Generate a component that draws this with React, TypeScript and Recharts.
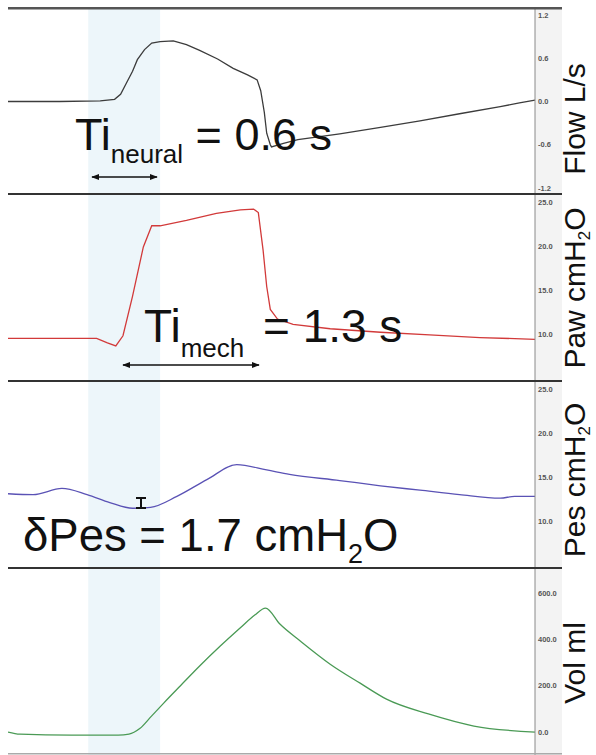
import { LineChart, Line, XAxis, YAxis, ReferenceArea } from 'recharts'

// time axis (s) and shaded neural inspiration window
const T_DOMAIN: [number, number] = [0, 4.4]
const BAND_START = 0.67
const BAND_END = 1.27

// Flow L/s
const FLOW_T = [0, 0.43, 0.77, 0.89, 0.94, 0.99, 1.04, 1.08, 1.14, 1.2, 1.27, 1.38, 1.49, 1.6, 1.75, 1.88, 2.0, 2.08, 2.11, 2.14, 2.16, 2.19, 2.2, 2.3, 2.42, 2.77, 3.11, 3.44, 3.77, 4.11, 4.27, 4.4]
const FLOW = [0, 0, 0.01, 0.03, 0.1, 0.26, 0.42, 0.58, 0.72, 0.81, 0.83, 0.84, 0.79, 0.71, 0.59, 0.46, 0.37, 0.3, 0.15, -0.15, -0.44, -0.6, -0.63, -0.58, -0.53, -0.45, -0.36, -0.27, -0.17, -0.07, -0.02, 0.02]

// Paw cmH2O
const PAW_T = [0, 0.35, 0.74, 0.83, 0.9, 0.96, 1.04, 1.13, 1.2, 1.27, 1.49, 1.74, 1.94, 2.05, 2.09, 2.13, 2.16, 2.19, 2.25, 2.38, 2.69, 3.11, 3.52, 3.94, 4.4]
const PAW = [9.5, 9.5, 9.5, 9.0, 8.65, 9.8, 14.3, 19.9, 22.3, 22.3, 22.9, 23.7, 24.1, 24.2, 23.8, 19.5, 15.4, 12.8, 11.7, 11.1, 10.6, 10.2, 9.9, 9.6, 9.4]

// Pes cmH2O
const PES_T = [0, 0.21, 0.45, 0.66, 0.85, 1.04, 1.19, 1.41, 1.66, 1.91, 2.16, 2.35, 2.77, 3.11, 3.44, 3.77, 4.11, 4.23, 4.4]
const PES = [13.1, 13.0, 13.7, 13.0, 12.1, 11.45, 11.55, 12.8, 14.7, 16.4, 15.8, 15.3, 14.6, 14.0, 13.5, 13.0, 12.6, 12.8, 12.8]

// Vol ml
const VOL_T = [0, 0.1, 0.53, 0.92, 1.01, 1.1, 1.2, 1.3, 1.44, 1.6, 1.77, 1.94, 2.06, 2.15, 2.27, 2.44, 2.69, 2.94, 3.16, 3.51, 3.89, 4.4]
const VOL = [0, -9, -13, -13, -9, 15, 70, 125, 200, 285, 370, 450, 505, 535, 466, 393, 293, 211, 142, 78, 26, 0]

const FLOW_TICKS = [-1.2, -0.6, 0, 0.6, 1.2]
const PRESSURE_TICKS = [10, 15, 20, 25]
const VOL_TICKS = [0, 200, 400, 600]

const zip = (t: number[], v: number[]) => t.map((x, i) => ({ t: x, v: v[i] }))

const FONT = '"Liberation Sans", Arial, sans-serif'

interface PanelProps {
  top: number
  height: number
  data: { t: number; v: number }[]
  domain: [number, number]
  ticks: number[]
  color: string
  curve: 'linear' | 'monotone'
}

function Panel({ top, height, data, domain, ticks, color, curve }: PanelProps) {
  return (
    <div style={{ position: 'absolute', left: 8, top, width: 554, height }}>
      <LineChart width={554} height={height} data={data} margin={{ top: 0, right: 0, bottom: 0, left: 0 }}>
        <XAxis dataKey="t" type="number" domain={T_DOMAIN} hide />
        <YAxis
          orientation="right"
          width={27}
          domain={domain}
          ticks={ticks}
          interval={0}
          allowDataOverflow
          tickFormatter={(v: number) => v.toFixed(1)}
          tick={{ fill: '#555', fontSize: 7.5, fontWeight: 'bold', fontFamily: FONT }}
          tickLine={false}
          tickSize={0}
          tickMargin={3}
          axisLine={{ stroke: '#8a8a8a' }}
        />
        <ReferenceArea x1={BAND_START} x2={BAND_END} fill="#edf6fa" fillOpacity={1} stroke="none" />
        <Line
          type={curve}
          dataKey="v"
          stroke={color}
          strokeWidth={1.3}
          dot={false}
          isAnimationActive={false}
        />
      </LineChart>
    </div>
  )
}

function SideLabel({ cy, text, sub, after }: { cy: number; text: string; sub?: string; after?: string }) {
  return (
    <text
      x={585}
      y={cy}
      transform={`rotate(-90 585 ${cy})`}
      textAnchor="middle"
      fontSize={30}
      fontFamily={FONT}
      fill="#111"
      style={{ whiteSpace: 'pre' }}
    >
      {text}
      {sub && <tspan fontSize={17} dy={5}>{sub}</tspan>}
      {after && <tspan dy={-5}>{after}</tspan>}
    </text>
  )
}

export default function App() {
  return (
    <div style={{ position: 'absolute', left: 0, top: 0, width: 596, height: 755, background: '#fff', overflow: 'hidden' }}>
      {/* grey strip behind tick labels */}
      <div style={{ position: 'absolute', left: 535, top: 8, width: 27, height: 747, background: '#f3f3f3' }} />

      <Panel top={8} height={186} data={zip(FLOW_T, FLOW)} domain={[-1.283, 1.297]} ticks={FLOW_TICKS} color="#3c3c3c" curve="linear" />
      <Panel top={194} height={187} data={zip(PAW_T, PAW)} domain={[4.66, 25.91]} ticks={PRESSURE_TICKS} color="#d23a3a" curve="linear" />
      <Panel top={381} height={187} data={zip(PES_T, PES)} domain={[4.66, 25.91]} ticks={PRESSURE_TICKS} color="#5a52b5" curve="monotone" />
      <Panel top={568} height={187} data={zip(VOL_T, VOL)} domain={[-99, 708]} ticks={VOL_TICKS} color="#4a9a55" curve="monotone" />

      <svg width={596} height={755} style={{ position: 'absolute', left: 0, top: 0, pointerEvents: 'none' }}>
        <defs>
          <marker id="arrowEnd" viewBox="0 0 10 10" refX={9} refY={5} markerWidth={8} markerHeight={8} orient="auto-start-reverse" markerUnits="userSpaceOnUse">
            <path d="M0,1 L10,5 L0,9 z" fill="#111" />
          </marker>
        </defs>

        {/* panel frame lines */}
        <rect x={8} y={7} width={554} height={2.5} fill="#555" />
        <rect x={8} y={193} width={554} height={2} fill="#333" />
        <rect x={8} y={380} width={554} height={2} fill="#333" />
        <rect x={8} y={567} width={554} height={2} fill="#333" />
        <rect x={8} y={753} width={554} height={1.5} fill="#aaa" />

        {/* Ti neural */}
        <text x={75} y={150} fontSize={45} fontFamily={FONT} fill="#111" style={{ whiteSpace: 'pre' }}>
          Ti<tspan fontSize={26} dy={13}>neural</tspan><tspan dy={-13}> = 0.6 s</tspan>
        </text>
        <line x1={92} y1={177} x2={157} y2={177} stroke="#111" strokeWidth={1.5} markerStart="url(#arrowEnd)" markerEnd="url(#arrowEnd)" />

        {/* Ti mech */}
        <text x={144} y={342} fontSize={46} fontFamily={FONT} fill="#111" style={{ whiteSpace: 'pre' }}>
          Ti<tspan fontSize={26} dy={15}>mech</tspan><tspan dy={-15} dx={6}> = 1.3 s</tspan>
        </text>
        <line x1={123} y1={365} x2={259} y2={365} stroke="#111" strokeWidth={1.5} markerStart="url(#arrowEnd)" markerEnd="url(#arrowEnd)" />

        {/* delta Pes */}
        <line x1={141} y1={498} x2={141} y2={508} stroke="#111" strokeWidth={2} />
        <line x1={136} y1={498} x2={146} y2={498} stroke="#111" strokeWidth={2} />
        <line x1={136} y1={508} x2={146} y2={508} stroke="#111" strokeWidth={2} />
        <text x={23} y={551} fontSize={45.5} fontFamily={FONT} fill="#111" style={{ whiteSpace: 'pre' }}>
          δPes = 1.7 cmH<tspan fontSize={27} dy={12}>2</tspan><tspan dy={-12}>O</tspan>
        </text>

        <SideLabel cy={119} text="Flow L/s" />
        <SideLabel cy={288} text="Paw cmH" sub="2" after="O" />
        <SideLabel cy={480} text="Pes cmH" sub="2" after="O" />
        <SideLabel cy={663} text="Vol ml" />
      </svg>
    </div>
  )
}
